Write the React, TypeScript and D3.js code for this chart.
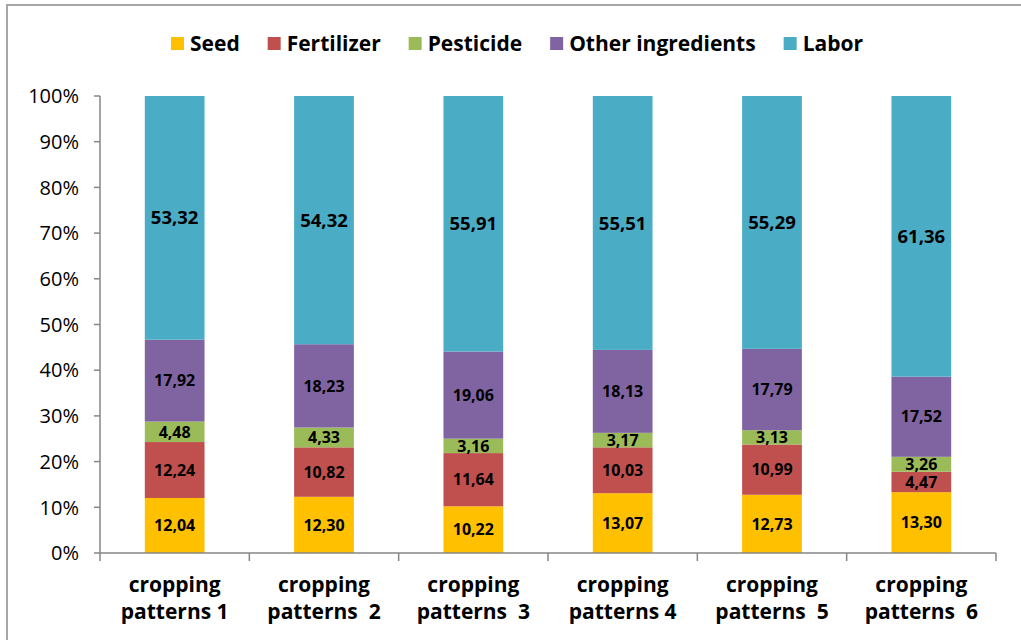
import { useEffect, useRef } from "react";
import * as d3 from "d3";

const categories = [
  "cropping|patterns 1",
  "cropping|patterns  2",
  "cropping|patterns  3",
  "cropping|patterns 4",
  "cropping|patterns  5",
  "cropping|patterns  6",
];

const seriesNames = ["Seed", "Fertilizer", "Pesticide", "Other ingredients", "Labor"];
const seriesColors = ["#FFC000", "#C0504D", "#9BBB59", "#8064A2", "#4BACC6"];

const seed = [12.04, 12.3, 10.22, 13.07, 12.73, 13.3];
const fertilizer = [12.24, 10.82, 11.64, 10.03, 10.99, 4.47];
const pesticide = [4.48, 4.33, 3.16, 3.17, 3.13, 3.26];
const otherIngredients = [17.92, 18.23, 19.06, 18.13, 17.79, 17.52];
const labor = [53.32, 54.32, 55.91, 55.51, 55.29, 61.36];

const yTicks = [0, 0.1, 0.2, 0.3, 0.4, 0.5, 0.6, 0.7, 0.8, 0.9, 1];

const FONT = "'Open Sans', sans-serif";

export default function App() {
  const svgRef = useRef<SVGSVGElement>(null);

  useEffect(() => {
    if (!svgRef.current) return;
    const W = 1021;
    const H = 640;
    const svg = d3.select(svgRef.current);
    svg.selectAll("*").remove();
    svg.attr("width", W).attr("height", H).attr("viewBox", `0 0 ${W} ${H}`);

    // frame (only top and left edges are visible in the crop)
    svg
      .append("rect")
      .attr("x", 7)
      .attr("y", 5)
      .attr("width", W + 20)
      .attr("height", H + 20)
      .attr("fill", "#fff")
      .attr("stroke", "#a6a6a6")
      .attr("stroke-width", 2);

    const series = [seed, fertilizer, pesticide, otherIngredients, labor];
    const rows = categories.map((c, i) => {
      const row: Record<string, any> = { cat: c };
      const total = d3.sum(series, (s) => s[i]);
      seriesNames.forEach((n, k) => {
        row[n] = series[k][i] / total;
        row[n + "_raw"] = series[k][i];
      });
      return row;
    });

    const stacked = d3.stack<any>().keys(seriesNames)(rows);

    const x = d3
      .scaleBand()
      .domain(categories)
      .range([100, 996])
      .paddingInner(0.6)
      .paddingOuter(0.3);

    const y = d3.scaleLinear().domain([0, 1]).range([553, 96]);

    // bars + value labels
    stacked.forEach((layer, k) => {
      const g = svg.append("g");
      g.selectAll("rect")
        .data(layer)
        .join("rect")
        .attr("x", (d) => x(d.data.cat)!)
        .attr("width", x.bandwidth())
        .attr("y", (d) => y(d[1]))
        .attr("height", (d) => y(d[0]) - y(d[1]))
        .attr("fill", seriesColors[k]);

      g.selectAll("text")
        .data(layer)
        .join("text")
        .attr("x", (d) => x(d.data.cat)! + x.bandwidth() / 2)
        .attr("y", (d) => (y(d[0]) + y(d[1])) / 2)
        .attr("dy", "0.36em")
        .attr("text-anchor", "middle")
        .attr("font-family", FONT)
        .attr("font-weight", 700)
        .attr("font-size", k === 4 ? 18.5 : 16)
        .attr("fill", "#000")
        .text((d) => d3.format(".2f")(d.data[seriesNames[k] + "_raw"]).replace(".", ","));
    });

    const axisColor = "#868686";

    // y axis
    const yAxis = svg.append("g");
    yAxis
      .append("line")
      .attr("x1", 100)
      .attr("x2", 100)
      .attr("y1", y(1))
      .attr("y2", y(0))
      .attr("stroke", axisColor)
      .attr("stroke-width", 1.5);
    yAxis
      .selectAll("line.tick")
      .data(yTicks)
      .join("line")
      .attr("class", "tick")
      .attr("x1", 94)
      .attr("x2", 100)
      .attr("y1", (d) => y(d))
      .attr("y2", (d) => y(d))
      .attr("stroke", axisColor)
      .attr("stroke-width", 1.5);
    yAxis
      .selectAll("text")
      .data(yTicks)
      .join("text")
      .attr("x", 79)
      .attr("y", (d) => y(d))
      .attr("dy", "0.36em")
      .attr("text-anchor", "end")
      .attr("font-family", FONT)
      .attr("font-size", 20)
      .attr("fill", "#000")
      .text((d) => d3.format(".0%")(d));

    // x axis with ticks between categories
    const xAxis = svg.append("g");
    xAxis
      .append("line")
      .attr("x1", 100)
      .attr("x2", 996)
      .attr("y1", y(0))
      .attr("y2", y(0))
      .attr("stroke", axisColor)
      .attr("stroke-width", 1.5);
    const start = x.range()[0];
    const edges = [start, ...categories.map((c) => x(c)! + x.bandwidth() / 2 + x.step() / 2)];
    xAxis
      .selectAll("line.tick")
      .data(edges)
      .join("line")
      .attr("class", "tick")
      .attr("x1", (d) => d)
      .attr("x2", (d) => d)
      .attr("y1", y(0))
      .attr("y2", y(0) + 8)
      .attr("stroke", axisColor)
      .attr("stroke-width", 1.5);

    const labels = xAxis
      .selectAll("text")
      .data(categories)
      .join("text")
      .attr("text-anchor", "middle")
      .attr("font-family", FONT)
      .attr("font-weight", 700)
      .attr("font-size", 21)
      .attr("fill", "#000")
      .style("white-space", "pre");
    labels.each(function (c) {
      const parts = c.split("|");
      const cx = x(c)! + x.bandwidth() / 2;
      d3.select(this)
        .selectAll("tspan")
        .data(parts)
        .join("tspan")
        .attr("x", cx)
        .attr("y", (_, i) => 592 + i * 27)
        .text((p) => p);
    });

    // legend
    const legend = svg.append("g");
    let lx = 171;
    seriesNames.forEach((n, k) => {
      legend
        .append("rect")
        .attr("x", lx)
        .attr("y", 37)
        .attr("width", 13)
        .attr("height", 13)
        .attr("fill", seriesColors[k]);
      const t = legend
        .append("text")
        .attr("x", lx + 19)
        .attr("y", 43.5)
        .attr("dy", "0.36em")
        .attr("font-family", FONT)
        .attr("font-weight", 700)
        .attr("font-size", 21)
        .attr("fill", "#000")
        .text(n);
      const w = (t.node() as SVGTextElement).getComputedTextLength();
      lx += 19 + w + 28;
    });
  }, []);

  return (
    <svg
      ref={svgRef}
      style={{ position: "absolute", left: 0, top: 0 }}
      role="img"
      aria-label="100% stacked bar chart of cost shares across six cropping patterns"
    />
  );
}
